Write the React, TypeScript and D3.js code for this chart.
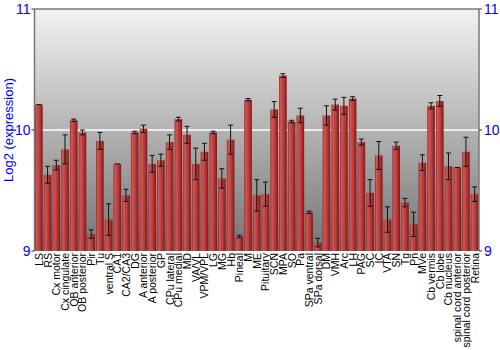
import React from "react";
import * as d3 from "d3";

const categories = ["LS","RS","Cx motor","Cx cingulate","OB anterior","OB posterior","Pir","Tu","ventral S","CA1","CA2/CA3","DG","A anterior","A posterior","GP","CPu lateral","CPu medial","MD","VA/VL","VPM/VPL","LG","MG","Hb","Pineal","M","ME","Pituitary","SCN","MPA","SO","Pa","SPa ventral","SPa dorsal","DM","VMH","Arc","LH","PAG","SC","IC","VTA","SN","Tg","Pn","MVe","Cb vermis","Cb lobe","Cb nucleus","spinal cord anterior","spinal cord posterior","Retina"];
const values = [10.21,9.63,9.71,9.84,10.08,9.98,9.14,9.91,9.26,9.72,9.46,9.98,10.01,9.72,9.75,9.90,10.09,9.96,9.72,9.82,9.98,9.60,9.92,9.12,10.25,9.46,9.47,10.17,10.45,10.07,10.12,9.32,9.07,10.12,10.21,10.20,10.26,9.90,9.48,9.79,9.26,9.87,9.40,9.22,9.73,10.20,10.24,9.70,9.69,9.82,9.47];
const errors = [0.005,0.07,0.04,0.12,0.01,0.02,0.035,0.07,0.13,0.005,0.05,0.01,0.03,0.07,0.05,0.06,0.015,0.07,0.13,0.07,0.01,0.08,0.12,0.01,0.01,0.13,0.10,0.065,0.015,0.01,0.06,0.01,0.035,0.08,0.045,0.07,0.015,0.025,0.11,0.115,0.105,0.03,0.035,0.10,0.065,0.025,0.045,0.11,0.005,0.12,0.06];
const yTicks = [9, 10, 11];

export default function App() {
  const W = 500, H = 350;
  const left = 34.5, right = 479, top = 9, bottom = 251;
  const x = d3.scaleBand<string>().domain(categories).range([left, right]).paddingInner(0.12).paddingOuter(0.06);
  const y = d3.scaleLinear().domain([9, 11]).range([bottom, top]);
  const font = "Liberation Sans, Arial, sans-serif";
  const bw = x.bandwidth();
  return (
    <svg width={W} height={H} style={{ position: "absolute", left: 0, top: 0, background: "#fff" }}>
      <defs>
        <linearGradient id="bg" x1="0" y1="0" x2="0" y2="1">
          <stop offset="0" stopColor="#f2f2f2" />
          <stop offset="1" stopColor="#747474" />
        </linearGradient>
        <linearGradient id="bar" x1="0" y1="0" x2="1" y2="0">
          <stop offset="0" stopColor="#9a2a2a" />
          <stop offset="0.2" stopColor="#d05656" />
          <stop offset="0.6" stopColor="#b83a3a" />
          <stop offset="1" stopColor="#7e1818" />
        </linearGradient>
      </defs>
      <rect x={left} y={top} width={right - left} height={bottom - top} fill="url(#bg)" />
      <line x1={left} x2={right} y1={y(10)} y2={y(10)} stroke="#ffffff" strokeWidth={1.5} />
      {categories.map((c, i) => {
        const v = values[i], e = errors[i];
        const bx = x(c)!;
        const cx = bx + bw / 2;
        return (
          <g key={c}>
            <rect x={bx} y={y(v)} width={bw} height={bottom - y(v)} fill="url(#bar)" />
            {e > 0.008 && (
              <g stroke="#111" strokeWidth={1}>
                <line x1={cx} x2={cx} y1={y(v + e)} y2={y(v - e)} />
                <line x1={cx - 2.5} x2={cx + 2.5} y1={y(v + e)} y2={y(v + e)} />
                <line x1={cx - 2.5} x2={cx + 2.5} y1={y(v - e)} y2={y(v - e)} />
              </g>
            )}
            {e <= 0.008 && (
              <line x1={cx - 2.5} x2={cx + 2.5} y1={y(v)} y2={y(v)} stroke="#111" strokeWidth={1} />
            )}
            <text
              transform={`translate(${cx + 4},${bottom + 2}) rotate(-90)`}
              textAnchor="end"
              fontFamily={font}
              fontSize={10.5}
              fill="#000"
            >{c}</text>
          </g>
        );
      })}
      <line x1={left} x2={left} y1={top} y2={bottom} stroke="#777" strokeWidth={1.5} />
      <line x1={right} x2={right} y1={top} y2={bottom} stroke="#777" strokeWidth={1.5} />
      <line x1={left} x2={right} y1={top} y2={top} stroke="#777" strokeWidth={1.5} />
      {yTicks.map(t => (
        <g key={t}>
          <line x1={left - 3} x2={left} y1={y(t)} y2={y(t)} stroke="#333" />
          <line x1={right} x2={right + 3} y1={y(t)} y2={y(t)} stroke="#333" />
          <text x={left - 4} y={y(t) + 5} textAnchor="end" fontFamily={font} fontSize={14} fill="#0000ff">{t}</text>
          <text x={right + 5} y={y(t) + 5} textAnchor="start" fontFamily={font} fontSize={14} fill="#0000ff">{t}</text>
        </g>
      ))}
      <text transform={`translate(13,${(top + bottom) / 2}) rotate(-90)`} textAnchor="middle" fontFamily={font} fontSize={13} fill="#0000ff">Log2 (expression)</text>
    </svg>
  );
}
